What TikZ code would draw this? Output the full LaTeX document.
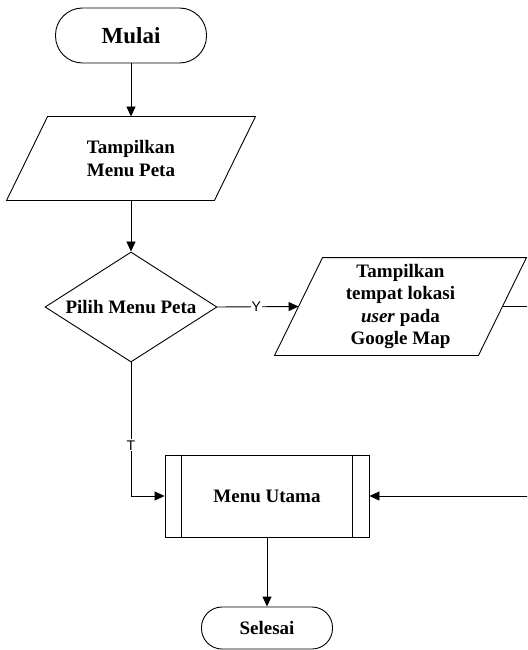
\documentclass[tikz,border=0pt]{standalone}
\usepackage{fontspec}
\setmainfont{Liberation Serif}
\newfontfamily\labfont{Liberation Sans}
\usetikzlibrary{shapes.geometric,arrows.meta,calc}
\begin{document}
\begin{tikzpicture}[x=1pt,y=-1pt,line width=0.9pt,
  txt/.style={font=\fontsize{19}{22.5}\selectfont\bfseries,align=center,inner sep=0pt},
  startbox/.style={txt,draw,font=\fontsize{23}{27}\selectfont\bfseries,rounded corners=27pt,minimum width=151pt,minimum height=55pt},
  endbox/.style={txt,draw,rounded corners=20.5pt,minimum width=131pt,minimum height=42pt},
  parabox/.style={txt},
  decision/.style={txt,draw,diamond,aspect=1.56,minimum width=172pt,minimum height=110pt},
  procbox/.style={txt,draw,minimum width=204pt,minimum height=82pt},
  arr/.style={-{Triangle[length=10pt,width=9pt]}},
  lab/.style={font=\labfont\fontsize{14}{14}\selectfont,fill=white,inner sep=1pt}]
\clip (0,0) rectangle (527,650);
% nodes
\node[startbox] (start) at (131,35.5) {Mulai};
\node[parabox,minimum width=248pt,minimum height=83pt] (p1) at (131,158.5) {Tampilkan\\Menu Peta};
\draw ([xshift=41pt]p1.north west) -- (p1.north east) -- ([xshift=-41pt]p1.south east) -- (p1.south west) -- cycle;
\node[decision] (d) at (131,307) {Pilih Menu Peta};
\node[parabox,minimum width=251pt,minimum height=97pt] (p2) at (400.5,306.5) {Tampilkan\\tempat lokasi\\\textit{user} pada\\Google Map};
\draw ([xshift=48pt]p2.north west) -- (p2.north east) -- ([xshift=-48pt]p2.south east) -- (p2.south west) -- cycle;
\node[procbox] (mu) at (267,496) {Menu Utama};
\draw ([xshift=17pt]mu.north west) -- ([xshift=17pt]mu.south west);
\draw ([xshift=-17pt]mu.north east) -- ([xshift=-17pt]mu.south east);
\node[endbox] (end) at (267,628) {Selesai};
% connectors
\coordinate (p2in) at ($(p2.west)+(24pt,0)$);
\coordinate (p2out) at ($(p2.east)+(-24pt,0)$);
\coordinate (rr) at (545,306.5);
\draw[arr] (start) -- (p1);
\draw[arr] (p1) -- (d);
\draw[arr] (d.east) -- node[lab,pos=0.48]{Y} (p2in);
\draw[arr] (p2out) -- (rr) |- (mu.east);
\draw[arr] (d.south) |- node[lab,pos=0.31]{T} (mu.west);
\draw[arr] (mu) -- (end);
\end{tikzpicture}
\end{document}
